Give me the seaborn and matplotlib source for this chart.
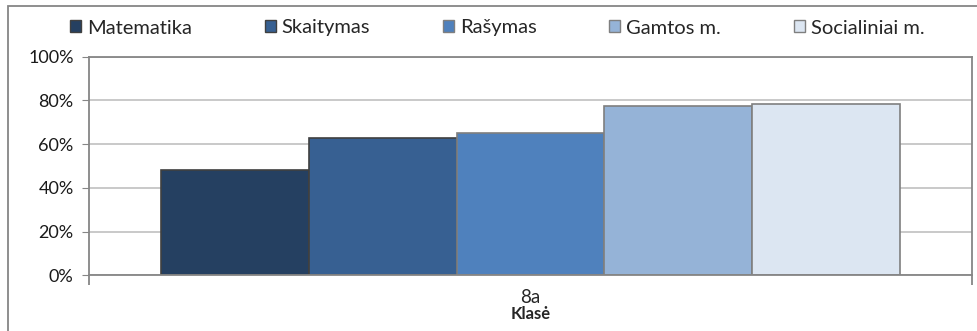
import pandas as pd
import matplotlib.pyplot as plt
import seaborn as sns
from matplotlib.patches import Rectangle, Patch
from matplotlib.ticker import PercentFormatter

klase = ["8a"]
subjects = ["Matematika", "Skaitymas", "Rašymas", "Gamtos m.", "Socialiniai m."]
values = [48.2, 62.9, 65.0, 77.6, 78.4]
colors = ["#254061", "#376092", "#4F81BD", "#95B3D7", "#DCE6F2"]
edges = ["#404040", "#404040", "#7F7F7F", "#7F7F7F", "#7F7F7F"]

df = pd.DataFrame({"klase": klase * len(subjects), "subject": subjects, "value": values})

sns.set_style("white")
plt.rcParams['font.family'] = ['Lato', 'DejaVu Sans']

fig = plt.figure(figsize=(9.77, 3.31), dpi=100)
ax = fig.add_axes([89 / 977, 1 - 275.3 / 331, (972 - 89) / 977, (275.3 - 56.7) / 331])

sns.barplot(data=df, x="klase", y="value", hue="subject", hue_order=subjects,
            palette=colors, width=0.836, saturation=1, ax=ax, legend=False)
for cont, ec in zip(ax.containers, edges):
    for bar in cont:
        bar.set_edgecolor(ec)
        bar.set_linewidth(1.2)

ax.set_xlim(-0.5, 0.5)
ax.set_ylim(0, 100)
ax.set_yticks(range(0, 101, 20))
ax.yaxis.set_major_formatter(PercentFormatter(decimals=0))
ax.grid(axis="y", color="#C0C0C0", linewidth=1.2)
ax.set_axisbelow(True)
for s in ax.spines.values():
    s.set_color("#868686")
    s.set_linewidth(1.3)
ax.tick_params(axis="y", which="major", left=True, length=5, color="#868686",
               labelsize=13, pad=6, labelcolor="#1a1a1a")
ax.tick_params(axis="x", which="major", length=0, labelsize=13.5, pad=10)
ax.set_xticks([-0.5, 0.5], minor=True)
ax.tick_params(axis="x", which="minor", bottom=True, length=7, color="#868686", width=1.3)
ax.set_xlabel("Klasė", fontsize=12, fontweight="bold", labelpad=0)
ax.set_ylabel("")

handles = [Patch(facecolor=c, edgecolor=e, linewidth=1) for c, e in zip(colors, edges)]
fig.legend(handles, subjects, loc="center", bbox_to_anchor=(0.509, 1 - 28 / 331), ncol=5,
           frameon=False, fontsize=14.5, handlelength=0.55, handleheight=0.55,
           handletextpad=0.3, columnspacing=3.6)

fig.patches.append(Rectangle((8 / 977, -0.1), 1.0, 1.1 - 6 / 331, transform=fig.transFigure,
                             fill=False, edgecolor="#868686", linewidth=1.3, zorder=0))

fig.savefig("out.png", dpi=100)
